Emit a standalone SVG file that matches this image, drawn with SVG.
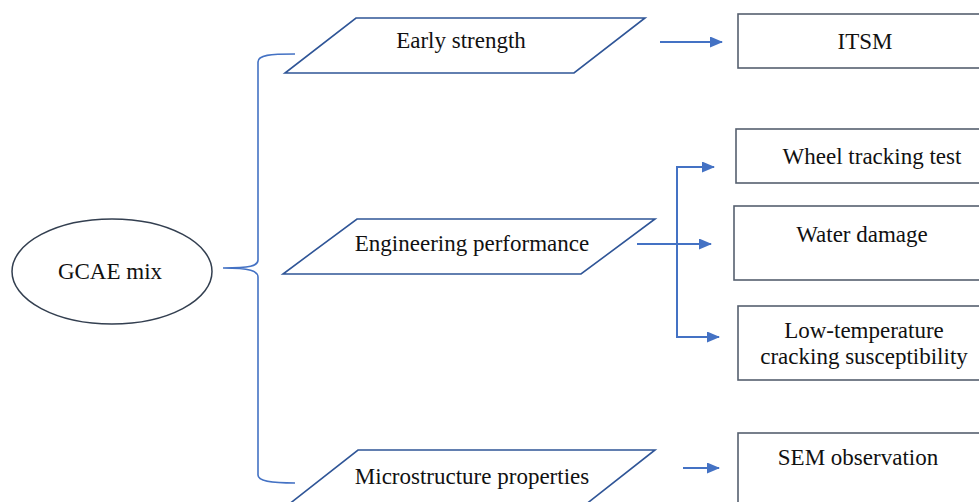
<svg xmlns="http://www.w3.org/2000/svg" width="979" height="502" viewBox="0 0 979 502">
<defs>
<style>
.t{font-family:"Liberation Serif","Times New Roman",serif;font-size:23px;fill:#111;text-anchor:middle}
.para{fill:#fff;stroke:#2F5597;stroke-width:1.6}
.box{fill:#fff;stroke:#56606f;stroke-width:1.6}
.con{fill:none;stroke:#4472C4;stroke-width:2}
.brace{fill:none;stroke:#4472C4;stroke-width:1.6}
</style>
<marker id="ah" markerWidth="13" markerHeight="11" refX="12" refY="5.5" orient="auto" markerUnits="userSpaceOnUse">
<path d="M0,0 L13,5.5 L0,11 Z" fill="#4472C4"/>
</marker>
</defs>
<rect width="979" height="502" fill="#fff"/>
<g id="gcae">
<ellipse cx="112" cy="271.5" rx="100" ry="52.5" fill="#fff" stroke="#333f50" stroke-width="1.5"/>
<text class="t" x="110" y="279">GCAE mix</text>
</g>
<g id="early">
<polygon class="para" points="356,18 645,18 574,73 285,73"/>
<text class="t" x="461" y="48">Early strength</text>
</g>
<g id="engineering">
<polygon class="para" points="357,219 655,219 581,274 283,274"/>
<text class="t" x="472" y="251">Engineering performance</text>
</g>
<g id="micro">
<polygon class="para" points="358,450 655,450 585,505 288,505"/>
<text class="t" x="472" y="484">Microstructure properties</text>
</g>
<g id="itsm">
<rect class="box" x="738" y="14" width="250" height="54"/>
<text class="t" x="865" y="49">ITSM</text>
</g>
<g id="wheel">
<rect class="box" x="736" y="129" width="250" height="54"/>
<text class="t" x="872" y="164">Wheel tracking test</text>
</g>
<g id="water">
<rect class="box" x="734" y="206" width="252" height="74"/>
<text class="t" x="862" y="242">Water damage</text>
</g>
<g id="lowtemp">
<rect class="box" x="738" y="306" width="250" height="74"/>
<text class="t" x="864" y="338">Low-temperature</text>
<text class="t" x="864" y="364">cracking susceptibility</text>
</g>
<g id="sem">
<rect class="box" x="738" y="433" width="250" height="80"/>
<text class="t" x="858" y="465">SEM observation</text>
</g>
<g id="connectors">
<path class="brace" d="M295,54 C270,54 258,55 258,62 L258,260 C258,266 250,268 223,268 C250,268 258,271 258,277 L258,475 C258,481 270,483 295,483"/>
<path class="con" d="M660,42 L722,42" marker-end="url(#ah)"/>
<path class="con" d="M637,244 L711,244" marker-end="url(#ah)"/>
<path class="con" d="M677,244 L677,167 L714,167" marker-end="url(#ah)"/>
<path class="con" d="M677,244 L677,337 L719,337" marker-end="url(#ah)"/>
<path class="con" d="M683,468 L719,468" marker-end="url(#ah)"/>
</g>
</svg>
